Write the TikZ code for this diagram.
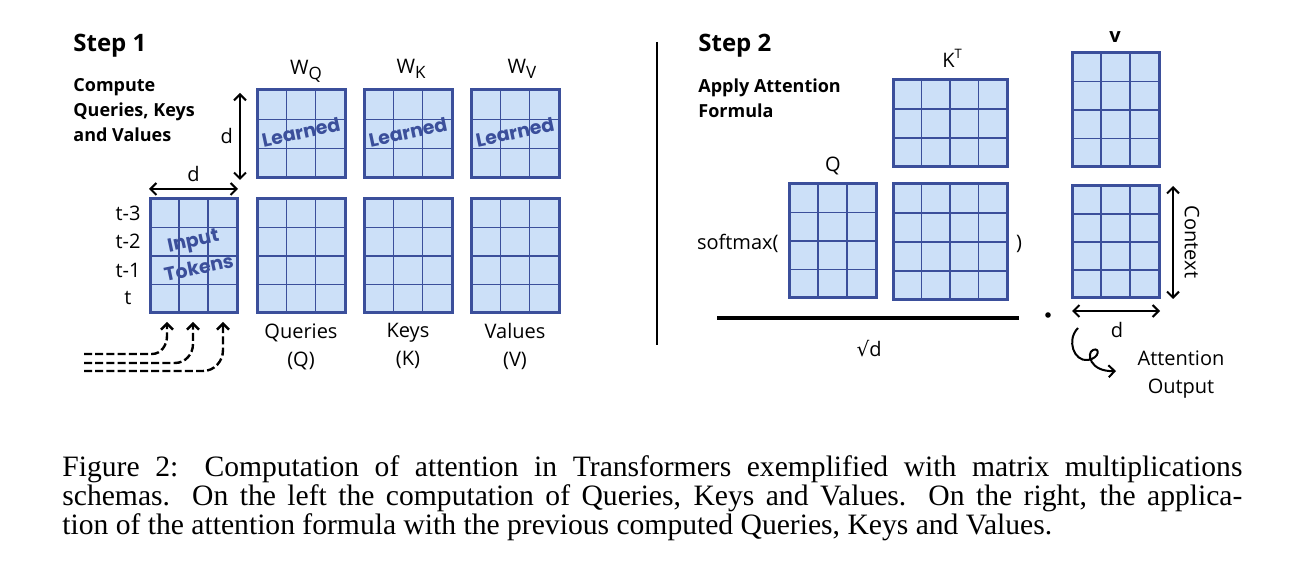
\documentclass[tikz,border=0pt]{standalone}
\usepackage{fontspec}
\setmainfont{Open Sans}
\newfontfamily\capfont{Liberation Serif}
\newfontfamily\handfont{Poppins}
\newfontfamily\symfont{DejaVu Sans}
\usepackage{xcolor}
\usepackage{tikz}
\usetikzlibrary{positioning,calc,arrows.meta}

\definecolor{cellfill}{HTML}{CCE0F8}
\definecolor{celledge}{HTML}{3B4F9B}

\newcommand{\sub}[1]{\raisebox{-0.45ex}{\fontsize{8.5}{9}\selectfont #1}}
\newcommand{\supr}[1]{\raisebox{0.85ex}{\fontsize{6.5}{7}\selectfont #1}}

\tikzset{
  matbox/.style={draw=celledge, fill=cellfill, line width=1.5pt, inner sep=0pt, outer sep=0pt, anchor=north west},
  gridline/.style={draw=celledge, line width=0.6pt},
  dimarrow/.style={<->, line width=1pt, >={Straight Barb[length=3pt,width=6pt]}},
  lbl/.style={font=\fontsize{10}{14}\selectfont, inner sep=1pt},
  heading/.style={font=\bfseries\fontsize{12}{14}\selectfont, anchor=base west, inner sep=0pt},
  subhead/.style={font=\bfseries\fontsize{9}{12.5}\selectfont, align=left, anchor=base west, inner sep=0pt},
  hand/.style={font=\handfont\bfseries\fontsize{9.5}{14}\selectfont, text=celledge, rotate=12, align=center, inner sep=0pt},
  feed/.style={->, dash pattern=on 4pt off 1.6pt, line width=1.2pt, >={Straight Barb[length=3pt,width=6pt]}}
}

% name, left, top, width, height (px), columns, rows
\newcommand{\gridmat}[7]{%
  \node[matbox, minimum width=#4*0.5pt, minimum height=#5*0.5pt] (#1) at (#2,#3) {};
  \pgfmathtruncatemacro\ncols{#6-1}
  \pgfmathtruncatemacro\nrows{#7-1}
  \foreach \i in {1,...,\ncols}
    \draw[gridline] ($(#1.north west)!\i/#6!(#1.north east)$) -- ($(#1.south west)!\i/#6!(#1.south east)$);
  \foreach \j in {1,...,\nrows}
    \draw[gridline] ($(#1.north west)!\j/#7!(#1.south west)$) -- ($(#1.north east)!\j/#7!(#1.south east)$);
  \draw[draw=celledge, line width=1.5pt] (#1.north west) rectangle (#1.south east);
}

\begin{document}
\begin{tikzpicture}[x=0.5pt,y=-0.5pt]
\useasboundingbox (0,0) rectangle (1297,582);

% Step 1
\node[heading] (step1) at (73,52) {Step 1};
\node[subhead] (task1) at (73,142) {Compute\\Queries, Keys\\and Values};

\gridmat{wq}{257}{90}{88}{88}{3}{3}
\gridmat{wk}{364}{90}{88}{88}{3}{3}
\gridmat{wv}{471}{90}{88}{88}{3}{3}
\gridmat{inp}{150}{199}{87}{114}{3}{4}
\gridmat{qry}{257}{199}{88}{114}{3}{4}
\gridmat{key}{364}{199}{88}{114}{3}{4}
\gridmat{val}{471}{199}{88}{114}{3}{4}

\node[lbl, anchor=base] (wqlbl) at (306,75) {W\sub{Q}};
\node[lbl, anchor=base] (wklbl) at (411,74) {W\sub{K}};
\node[lbl, anchor=base] (wvlbl) at (522,74) {W\sub{V}};
\foreach \m in {wq,wk,wv}
  \node[hand] (\m-note) at ($(\m.center)+(0,-2)$) {Learned};
\node[hand] (inp-note) at (196,254) {Input\\Tokens};

\node[lbl, align=center, below=4pt of qry] (qrylbl) {Queries\\(Q)};
\node[lbl, align=center, below=4pt of key] (keylbl) {Keys\\(K)};
\node[lbl, align=center, below=4pt of val] (vallbl) {Values\\(V)};

\foreach \r/\t in {0/t-3,1/t-2,2/t-1,3/t}
  \node[lbl] (row\r) at (128,{213+28.5*\r}) {\t};

\coordinate (dv1) at (240,93);
\coordinate (dv2) at (240,180);
\draw[dimarrow] (dv1) -- node[lbl, left=2pt] (dvlbl) {d} (dv2);
\coordinate (dh1) at (149,189);
\coordinate (dh2) at (238,189);
\draw[dimarrow] (dh1) -- node[lbl, above=2pt] (dhlbl) {d} (dh2);

% tokens fed into the input matrix
\coordinate (f1) at (84,354);
\coordinate (f2) at (84,363);
\coordinate (f3) at (84,371);
\coordinate (up1) at (167,322);
\coordinate (up2) at (193,322);
\coordinate (up3) at (223,322);
\draw[feed] (f1) -- (152,354) to[out=0,in=-90] (167,336) -- (up1);
\draw[feed] (f2) -- (175,363) to[out=0,in=-90] (193,344) -- (up2);
\draw[feed] (f3) -- (203,371) to[out=0,in=-90] (223,350) -- (up3);

\coordinate (sep1) at (657,42);
\coordinate (sep2) at (657,345);
\draw[line width=1pt] (sep1) -- (sep2);

% Step 2
\node[heading] (step2) at (698,52) {Step 2};
\node[subhead] (task2) at (698,118) {Apply Attention\\Formula};

\gridmat{kt}{893}{80}{114}{87}{4}{3}
\gridmat{qq}{789}{184}{87}{114}{3}{4}
\gridmat{qk}{893}{184}{114}{116}{4}{4}
\gridmat{vv}{1072}{53}{87}{114}{3}{4}
\gridmat{out}{1072}{186}{87}{112}{3}{4}

\node[lbl, anchor=base] (ktlbl) at (952,68) {K\supr{T}};
\node[lbl, anchor=base] (qqlbl) at (833,172) {Q};
\node[lbl, anchor=base] (vvlbl) at (1115,43) {\bfseries v};
\node[lbl, anchor=base east] (smx) at (781,250) {softmax(};
\node[lbl, anchor=base] (cls) at (1019,250) {)};

\coordinate (fr1) at (717,318);
\coordinate (fr2) at (1019,318);
\draw[line width=2pt] (fr1) -- (fr2);
\node[lbl, anchor=base] (sqd) at (869,357) {{\symfont √}d};
\fill (1048,315) circle[radius=1.4pt];

\coordinate (cx1) at (1173,186);
\coordinate (cx2) at (1173,299);
\draw[dimarrow] (cx1) -- (cx2);
\node[lbl, rotate=-90] (ctx) at (1192,242) {Context};
\coordinate (od1) at (1072,311);
\coordinate (od2) at (1160,311);
\draw[dimarrow] (od1) -- (od2);
\node[lbl] (odlbl) at (1117,330) {d};

\draw[->, line width=1pt, >={Straight Barb[length=3pt,width=6pt]}] (1078,328) .. controls (1066,340) and (1074,362) .. (1088,360)
  .. controls (1100,358) and (1100,347) .. (1093,350) .. controls (1086,353) and (1090,372) .. (1116,371);
\node[lbl, align=center, anchor=base] (attout) at (1181,394) {Attention\\Output};

% caption
\node[font=\capfont\fontsize{14.8}{13.2}\selectfont, text width=590pt, align=justify, inner sep=0pt, anchor=north west] (caption) at (62,455)
  {Figure 2: Computation of attention in Transformers exemplified with matrix multiplications\linebreak
   schemas. On the left the computation of Queries, Keys and Values. On the right, the applica-\linebreak
   tion of the attention formula with the previous computed Queries, Keys and Values.};
\end{tikzpicture}
\end{document}
